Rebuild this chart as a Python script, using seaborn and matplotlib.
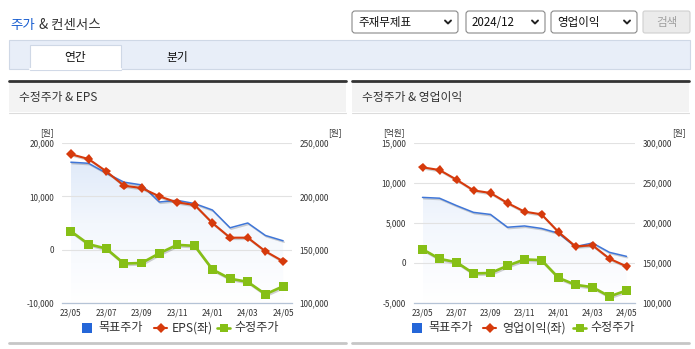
import numpy as np
import pandas as pd
import matplotlib
matplotlib.use("Agg")
import matplotlib.pyplot as plt
import seaborn as sns
from matplotlib.patches import Rectangle, FancyBboxPatch
from matplotlib.lines import Line2D
from matplotlib.colors import LinearSegmentedColormap
import matplotlib.patheffects as pe

# ---------------- data ----------------
months = ['23/05', '23/06', '23/07', '23/08', '23/09', '23/10', '23/11',
          '23/12', '24/01', '24/02', '24/03', '24/04', '24/05']
target_price = [232000, 231000, 221800, 213300, 210700, 194700, 196300,
                193200, 187200, 170500, 175000, 163300, 158300]
adj_price = [167300, 155200, 151000, 137000, 137500, 146600, 154500,
             153600, 131500, 122800, 119800, 108200, 115700]
eps = [17900, 17000, 14700, 12000, 11560, 10000, 8875, 8375, 5000,
       2250, 2250, -310, -2190]
op_profit = [11960, 11625, 10420, 9080, 8750, 7500, 6420, 6080, 3875,
             2080, 2210, 540, -420]

left_ticks_a = [-10000, 0, 10000, 20000]
right_ticks_a = [100000, 150000, 200000, 250000]
left_ticks_b = [-5000, 0, 5000, 10000, 15000]
right_ticks_b = [100000, 150000, 200000, 250000, 300000]

df = pd.DataFrame({'idx': np.arange(len(months)), 'month': months,
                   'target': target_price, 'adj': adj_price,
                   'eps': eps, 'op': op_profit})

# ---------------- style ----------------
sns.set_theme(style='white')
FONT = ['Noto Sans CJK KR', 'DejaVu Sans']
plt.rcParams['font.family'] = FONT
plt.rcParams['axes.unicode_minus'] = False

BLUE = '#3f76d8'
BLUE_SQ = '#2566d8'
RED = '#d63a0c'
GREEN = '#86bf16'
TXT = '#333333'
SPINE = '#b5c3d6'
GRID = '#e2e2e2'
TICKFS = 5.9

W, H = 695, 349
fig = plt.figure(figsize=(W / 100, H / 100), dpi=100)
fig.patch.set_facecolor('white')

ov = fig.add_axes([0, 0, 1, 1])
ov.set_xlim(0, W)
ov.set_ylim(H, 0)
ov.axis('off')
ov.set_zorder(0)

# ---------------- header ----------------
ov.text(10, 25, '주가', color='#1a5fd0', fontsize=9.7, va='center', ha='left')
ov.text(39, 25, '& 컨센서스', color=TXT, fontsize=9.7, va='center', ha='left')


def dropdown(x0, x1, label, y0=11, y1=33):
    ov.add_patch(FancyBboxPatch((x0, y0), x1 - x0, y1 - y0,
                                boxstyle='round,pad=0,rounding_size=3',
                                fc='white', ec='#8a8a8a', lw=0.8))
    ov.text(x0 + 6, (y0 + y1) / 2 + 0.5, label, fontsize=8.3, color='#111111',
            va='center', ha='left')
    cx = x1 - 10
    cy = (y0 + y1) / 2
    ov.add_line(Line2D([cx - 3, cx, cx + 3], [cy - 1.5, cy + 1.5, cy - 1.5],
                       color='#222222', lw=1.4, solid_capstyle='round'))


dropdown(352, 458, '주재무제표')
dropdown(466, 545, '2024/12')
dropdown(551, 637, '영업이익')
ov.add_patch(FancyBboxPatch((643, 11), 47, 22,
                            boxstyle='round,pad=0,rounding_size=2',
                            fc='#ebebeb', ec='#d0d0d0', lw=0.8))
ov.text(666.5, 22.5, '검색', fontsize=8.3, color='#a0a0a0', va='center', ha='center')

# tab bar
ov.add_patch(Rectangle((9, 40), 681, 29, fc='#e8eef8', ec='#cfd8e6', lw=0.8))
ov.add_patch(Rectangle((29.5, 45), 91, 24.5, fc='white', ec='#cfd8e6', lw=0.8))
ov.add_line(Line2D([30, 120.5], [69, 69], color='white', lw=1.5))
ov.text(75, 57, '연간', fontsize=8.5, color='#111111', va='center', ha='center')
ov.text(177, 57, '분기', fontsize=8.5, color='#111111', va='center', ha='center')

# ---------------- panels ----------------
def panel(x0, x1, title):
    ov.add_patch(Rectangle((x0, 81), x1 - x0, 31, fc='#f3f3f3', ec='none'))
    ov.add_line(Line2D([x0, x1], [81, 81], color='#333333', lw=2.0))
    ov.add_line(Line2D([x0, x1], [112.5, 112.5], color='#dcdcdc', lw=0.8))
    ov.add_line(Line2D([x0, x1], [343, 343], color='#c6c6c6', lw=2.0))
    ov.text(x0 + 10, 97, title, fontsize=8.5, color=TXT, va='center', ha='left')


panel(9, 346, '수정주가 & EPS')
panel(352, 689, '수정주가 & 영업이익')

grad_cmap = LinearSegmentedColormap.from_list('g', ['#ffffff', '#f3f7fd', '#dbe7f8'])


def chart(px0, px1, col, lticks, rticks, red_label, lunit, lunit_x, runit_x,
          legend_pos):
    ax = fig.add_axes([px0 / W, 1 - 303 / H, (px1 - px0) / W, 160 / H])
    ax2 = ax.twinx()
    ax.set_zorder(2)
    ax2.set_zorder(1)
    ax.patch.set_visible(False)
    ax2.patch.set_facecolor('white')

    n = len(df)
    rlo, rhi = rticks[0], rticks[-1]

    # gradient area below target price
    grad = np.linspace(0, 1, 256).reshape(-1, 1)
    im = ax2.imshow(grad, extent=[0, n - 1, rlo, rhi], aspect='auto',
                    cmap=grad_cmap, origin='lower', zorder=0.2)
    poly = ax2.fill_between(df['idx'], df['target'], rlo, facecolor='none',
                            edgecolor='none')
    im.set_clip_path(poly.get_paths()[0], transform=ax2.transData)

    shadow = [pe.SimpleLineShadow(offset=(0.8, -1.0), alpha=0.18, shadow_color='#000000'),
              pe.Normal()]
    sns.lineplot(data=df, x='idx', y='target', ax=ax2, color=BLUE, lw=1.1,
                 zorder=3, path_effects=shadow)
    sns.lineplot(data=df, x='idx', y='adj', ax=ax2, color=GREEN, lw=1.9,
                 marker='s', markersize=6.4, markeredgecolor=GREEN,
                 markeredgewidth=0, zorder=4, path_effects=shadow)
    sns.lineplot(data=df, x='idx', y=col, ax=ax, color=RED, lw=1.5,
                 marker='D', markersize=4.8, markeredgecolor=RED,
                 markeredgewidth=0, zorder=5, path_effects=shadow)

    ax.set_xlim(-0.5, n - 0.5)
    ax2.set_xlim(-0.5, n - 0.5)
    ax.set_ylim(lticks[0], lticks[-1])
    ax2.set_ylim(rlo, rhi)
    ax.set_xlabel('')
    ax.set_ylabel('')
    ax2.set_xlabel('')
    ax2.set_ylabel('')

    ax.set_yticks(lticks)
    ax.set_yticklabels([f'{v:,}' for v in lticks])
    ax2.set_yticks(rticks)
    ax2.set_yticklabels([f'{v:,}' for v in rticks])
    ax.tick_params(axis='y', length=0, pad=5.6, labelsize=TICKFS, labelcolor=TXT)
    ax2.tick_params(axis='y', length=0, pad=5.6, labelsize=TICKFS, labelcolor=TXT)

    ax2.set_axisbelow(True)
    ax2.yaxis.grid(True, color=GRID, lw=0.8)
    ax2.xaxis.grid(False)
    ax.grid(False)

    ax.set_xticks(df['idx'][::2])
    ax.set_xticklabels(df['month'][::2])
    minor = [-0.5] + list(np.arange(0.5, n, 2))
    ax.set_xticks(minor, minor=True)
    ax.tick_params(axis='x', which='major', length=0, pad=4.2, labelsize=TICKFS,
                   labelcolor=TXT)
    ax.tick_params(axis='x', which='minor', length=3, width=0.8, color=SPINE,
                   direction='out')
    ax2.tick_params(axis='x', which='both', length=0, labelbottom=False)

    for a in (ax, ax2):
        for s in ('top', 'left', 'right'):
            a.spines[s].set_visible(False)
    ax2.spines['bottom'].set_visible(False)
    ax.spines['bottom'].set_color(SPINE)
    ax.spines['bottom'].set_linewidth(0.9)

    # unit labels
    ov.text(lunit_x, 133, lunit, fontsize=6.2, color=TXT, va='center', ha='center')
    ov.text(runit_x, 133, '[원]', fontsize=6.2, color=TXT, va='center', ha='center')

    # legend
    (sqx, tx1, rx0, rx1, tx2, gx0, gx1, tx3) = legend_pos
    ly = 328
    ov.add_patch(Rectangle((sqx, ly - 5), 9.5, 10, fc=BLUE_SQ, ec='none'))
    ov.text(tx1, ly, '목표주가', fontsize=8.7, color=TXT, va='center', ha='left')
    ov.add_line(Line2D([rx0, rx1], [ly, ly], color=RED, lw=1.5))
    ov.add_line(Line2D([(rx0 + rx1) / 2], [ly], color=RED, marker='D',
                       markersize=4.8, markeredgewidth=0, lw=0))
    ov.text(tx2, ly, red_label, fontsize=8.7, color=TXT, va='center', ha='left')
    ov.add_line(Line2D([gx0, gx1], [ly, ly], color=GREEN, lw=1.9))
    ov.add_line(Line2D([(gx0 + gx1) / 2], [ly], color=GREEN, marker='s',
                       markersize=6.4, markeredgewidth=0, lw=0))
    ov.text(tx3, ly, '수정주가', fontsize=8.7, color=TXT, va='center', ha='left')
    return ax, ax2


chart(62, 292, 'eps', left_ticks_a, right_ticks_a, 'EPS(좌)', '[원]', 47, 335,
      (82, 98, 154, 167, 172, 217, 230, 234))
chart(414, 635, 'op', left_ticks_b, right_ticks_b, '영업이익(좌)', '[억원]', 394, 679,
      (412, 428, 483, 496, 502, 573, 586, 590))

fig.savefig('out.png', dpi=100, facecolor='white')
